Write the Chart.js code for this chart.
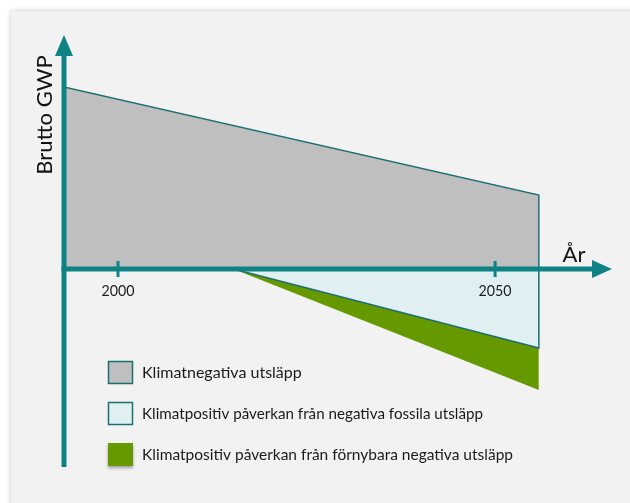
<!DOCTYPE html>
<html>
<head>
<meta charset="utf-8">
<script src="https://cdn.jsdelivr.net/npm/chart.js@4"></script>
<style>
  html, body { margin: 0; padding: 0; background: #ffffff; }
  #wrap { width: 630px; height: 503px; }
</style>
</head>
<body>
<div id="wrap"><canvas id="myChart" width="630" height="503"></canvas></div>
<script>
// gross emissions line (years -> GWP, arbitrary units)
var grossYears = [1992.8, 2055.8, 2055.8];
var grossValues = [91, 37, 0];

// negative emissions wedge, starting around 2015
var negYears = [2015.3, 2055.8, 2055.8];
var fossilValues = [0, -39.5, 0];
var renewableValues = [0, -60.5, -39.5];

var tickYears = [2000, 2050];
var legendLabels = [
  'Klimatnegativa utsläpp',
  'Klimatpositiv påverkan från negativa fossila utsläpp',
  'Klimatpositiv påverkan från förnybara negativa utsläpp'
];
var legendWidths = [181, 341, 371];

var teal = '#0f8286';
var edge = '#1b6f73';
var greyFill = '#bfbfbf';
var blueFill = '#dfeff2';
var greenFill = '#669900';

function pts(xs, ys) {
  return xs.map(function (x, i) { return { x: x, y: ys[i] }; });
}

// light panel behind the drawing
var panel = {
  id: 'panel',
  beforeDraw: function (chart) {
    var ctx = chart.ctx;
    ctx.save();
    ctx.fillStyle = '#ffffff';
    ctx.fillRect(0, 0, chart.width, chart.height);
    ctx.shadowColor = 'rgba(0,0,0,0.22)';
    ctx.shadowBlur = 5;
    ctx.fillStyle = '#f2f2f2';
    ctx.fillRect(11, 11, chart.width + 20, chart.height + 20);
    ctx.restore();
  }
};

// arrow axes, ticks, titles and legend
var axes = {
  id: 'axes',
  afterDatasetsDraw: function (chart) {
    var ctx = chart.ctx;
    var a = chart.chartArea;
    var xs = chart.scales.x, ys = chart.scales.y;
    var y0 = ys.getPixelForValue(0);
    ctx.save();
    ctx.fillStyle = teal;
    ctx.strokeStyle = teal;

    // y axis
    ctx.fillRect(a.left - 2.5, a.top + 18, 5, a.bottom - a.top - 18);
    ctx.beginPath();
    ctx.moveTo(a.left, a.top);
    ctx.lineTo(a.left - 9, a.top + 21);
    ctx.lineTo(a.left + 9, a.top + 21);
    ctx.closePath();
    ctx.fill();

    // x axis
    ctx.fillRect(a.left - 2.5, y0 - 2.5, a.right - a.left - 15, 5);
    ctx.beginPath();
    ctx.moveTo(a.right, y0);
    ctx.lineTo(a.right - 20, y0 - 9);
    ctx.lineTo(a.right - 20, y0 + 9);
    ctx.closePath();
    ctx.fill();

    // year ticks
    ctx.font = '15px Lato';
    ctx.textAlign = 'center';
    ctx.textBaseline = 'middle';
    tickYears.forEach(function (t) {
      var px = xs.getPixelForValue(t);
      ctx.fillStyle = teal;
      ctx.fillRect(px - 1.5, y0 - 8, 3, 16);
      ctx.fillStyle = '#1e1e1e';
      ctx.fillText(String(t), px, y0 + 22, 33);
    });

    // axis titles
    ctx.fillStyle = '#111111';
    ctx.font = '22px Lato';
    ctx.textBaseline = 'alphabetic';
    ctx.fillText('År', a.right - 38, y0 - 7);
    ctx.save();
    ctx.translate(52, 115);
    ctx.rotate(-Math.PI / 2);
    ctx.fillText('Brutto GWP', 0, 0, 130);
    ctx.restore();

    // legend
    var fills = [greyFill, blueFill, greenFill];
    ctx.font = '16px Lato';
    ctx.textAlign = 'left';
    ctx.textBaseline = 'middle';
    legendLabels.forEach(function (lab, i) {
      var by = 361 + i * 41;
      ctx.save();
      if (i === 2) {
        ctx.shadowColor = 'rgba(0,0,0,0.35)';
        ctx.shadowBlur = 3;
        ctx.shadowOffsetY = 2;
      }
      ctx.fillStyle = fills[i];
      ctx.fillRect(108, by, 25, 23);
      ctx.restore();
      if (i < 2) {
        ctx.lineWidth = 1.5;
        ctx.strokeStyle = edge;
        ctx.strokeRect(108.5, by + 0.5, 24, 22);
      }
      ctx.fillStyle = '#1a1a1a';
      ctx.fillText(lab, 142, by + 12, legendWidths[i]);
    });
    ctx.restore();
  }
};

var ctx = document.getElementById('myChart');
var chart = new Chart(ctx, {
  type: 'line',
  data: {
    datasets: [
      {
        label: legendLabels[0],
        data: pts(grossYears, grossValues),
        backgroundColor: greyFill,
        borderColor: edge,
        borderWidth: 1.5,
        fill: 'origin',
        order: 1
      },
      {
        label: legendLabels[1],
        data: pts(negYears, fossilValues),
        backgroundColor: blueFill,
        borderColor: edge,
        borderWidth: 1.5,
        fill: 'origin',
        order: 2
      },
      {
        label: legendLabels[2],
        data: pts(negYears, renewableValues),
        backgroundColor: greenFill,
        borderColor: greenFill,
        borderWidth: 0,
        fill: 'origin',
        order: 3
      }
    ]
  },
  options: {
    responsive: false,
    animation: false,
    layout: { padding: { left: 64, right: 18, top: 35, bottom: 36 } },
    elements: {
      line: { tension: 0 },
      point: { radius: 0, hoverRadius: 0 }
    },
    scales: {
      x: { type: 'linear', min: 1992.84, max: 2065.5, display: false },
      y: { min: -99, max: 117, display: false }
    },
    plugins: {
      legend: { display: false },
      tooltip: { enabled: false }
    }
  },
  plugins: [panel, axes]
});
</script>
</body>
</html>
